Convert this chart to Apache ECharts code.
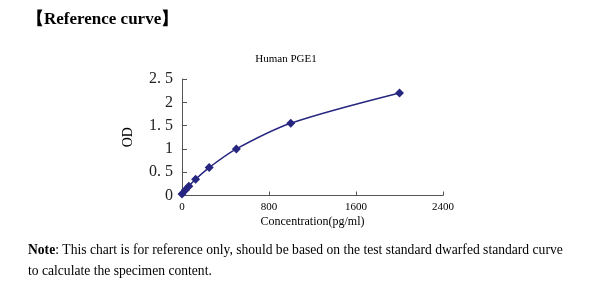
<!DOCTYPE html>
<html><head><meta charset="utf-8">
<script src="https://cdn.jsdelivr.net/npm/echarts@6/dist/echarts.min.js"></script>
<style>html,body{margin:0;padding:0;background:#fff}#c{width:600px;height:287px}</style>
</head><body><div id="c"></div>
<script>
const concentrations = [0, 31.25, 62.5, 125, 250, 500, 1000, 2000];
const odValues = [0.03, 0.12, 0.2, 0.35, 0.6, 1.0, 1.55, 2.2];
const xTicks = [0, 800, 1600, 2400];
const yTicks = [0, 0.5, 1, 1.5, 2, 2.5];
const chart = echarts.init(document.getElementById('c'));
const serif = "'Liberation Serif','DejaVu Serif',serif";
chart.setOption({
  animation: false,
  title: [
    {text: '【Reference curve】', left: 22, top: 6, textStyle: {fontFamily: serif, fontWeight: 'bold', fontSize: 17, color: '#000'}},
    {text: 'Human PGE1', left: 281, top: 49, textAlign: 'center', textStyle: {fontFamily: serif, fontWeight: 'normal', fontSize: 11, color: '#000'}},
    {text: '{b|Note}: This chart is for reference only, should be based on the test standard dwarfed standard curve\nto calculate the specimen content.', left: 23, top: 235,
     textStyle: {fontFamily: serif, fontWeight: 'normal', fontSize: 13.6, color: '#000', lineHeight: 21,
       rich: {b: {fontFamily: serif, fontWeight: 'bold', fontSize: 13.6, color: '#000'}}}}
  ],
  grid: {left: 182, top: 79, width: 261, height: 116.5},
  xAxis: {
    type: 'value', min: xTicks[0], max: xTicks[xTicks.length - 1], interval: 800,
    name: 'Concentration(pg/ml)', nameLocation: 'middle', nameGap: 20,
    nameTextStyle: {fontFamily: serif, fontSize: 12, color: '#000'},
    axisLine: {lineStyle: {color: '#555', width: 1}},
    axisTick: {inside: true, length: 4, lineStyle: {color: '#555'}},
    axisLabel: {fontFamily: serif, fontSize: 11, color: '#000', margin: 6, formatter: v => String(v)},
    splitLine: {show: false}
  },
  yAxis: {
    type: 'value', min: yTicks[0], max: yTicks[yTicks.length - 1], interval: 0.5,
    name: 'OD', nameLocation: 'middle', nameGap: 47, nameRotate: 90,
    nameTextStyle: {fontFamily: serif, fontSize: 14, color: '#000'},
    axisLine: {show: true, lineStyle: {color: '#555', width: 1}},
    axisTick: {show: true, inside: true, length: 5, lineStyle: {color: '#555'}},
    axisLabel: {fontFamily: serif, fontSize: 16, color: '#222', margin: 9,
      formatter: v => String(v).replace('.', '. ')},
    splitLine: {show: false}
  },
  series: [{
    type: 'line', smooth: 0.3,
    data: concentrations.map((c, i) => [c, odValues[i]]),
    symbol: 'diamond', symbolSize: 9,
    lineStyle: {color: '#262680', width: 1.5},
    itemStyle: {color: '#262680'}
  }]
});
</script></body></html>
